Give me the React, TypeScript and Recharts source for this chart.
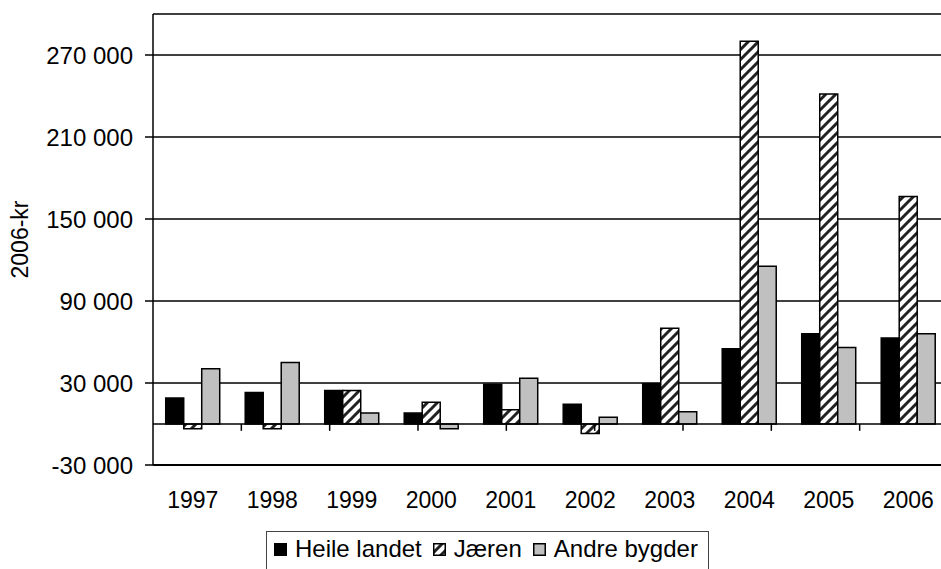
import { BarChart, Bar, XAxis, YAxis, CartesianGrid, ReferenceLine } from 'recharts';

const years = ['1997', '1998', '1999', '2000', '2001', '2002', '2003', '2004', '2005', '2006'];
const heileLandet = [19000, 23000, 24500, 8000, 29000, 14500, 29500, 55000, 66000, 63000];
const jaeren = [-3500, -3500, 24500, 16000, 10500, -7000, 70000, 280000, 241500, 166500];
const andreBygder = [40500, 45000, 8000, -3500, 33500, 5000, 9000, 115500, 56000, 66000];
const yTicks = [-30000, 30000, 90000, 150000, 210000, 270000];

const FONT = '"Liberation Sans", Arial, sans-serif';
const FS = 23;
const FS_Y = 24;
const FS_LEG = 24;

const data = years.map((year, i) => ({
  year,
  heile: heileLandet[i],
  jaeren: jaeren[i],
  andre: andreBygder[i],
}));

// category boundaries for the small ticks hanging off the zero line
const boundaries = years.slice(1).map((_, i) => i + 1);

function fmt(v: number): string {
  const s = Math.abs(v).toString().replace(/\B(?=(\d{3})+(?!\d))/g, ' ');
  return v < 0 ? '-' + s : s;
}

function YLabel(props: any) {
  const vb = props.viewBox || {};
  const cy = (vb.y ?? 0) + (vb.height ?? 0) / 2;
  return (
    <text
      x={20}
      y={cy}
      transform={`rotate(-90 20 ${cy})`}
      textAnchor="middle"
      dominantBaseline="central"
      fontFamily={FONT}
      fontSize={FS}
      fill="#000"
    >
      2006-kr
    </text>
  );
}

const legendItems = [
  { name: 'Heile landet', fill: '#000' },
  { name: 'Jæren', fill: 'url(#hatch)' },
  { name: 'Andre bygder', fill: '#c0c0c0' },
];

export default function App() {
  return (
    <div style={{ position: 'absolute', left: 0, top: 0, width: 941, height: 569, overflow: 'hidden', background: '#fff' }}>
      <BarChart
        width={948}
        height={569}
        data={data}
        margin={{ top: 14, right: 0, left: 0, bottom: 0 }}
        barCategoryGap="16%"
        barGap={0}
      >
        <defs>
          <pattern id="hatch" patternUnits="userSpaceOnUse" width={10} height={10}>
            <rect width={10} height={10} fill="#fff" />
            <path d="M-2,2 L2,-2 M0,10 L10,0 M8,12 L12,8" stroke="#222" strokeWidth={3} />
          </pattern>
        </defs>
        <CartesianGrid vertical={false} stroke="#000" strokeWidth={1.5} strokeDasharray="" />
        <XAxis
          dataKey="year"
          height={104}
          tickLine={false}
          tickSize={0}
          tickMargin={27}
          axisLine={{ stroke: '#000', strokeWidth: 2 }}
          tick={{ fill: '#000', fontSize: FS, fontFamily: FONT }}
          interval={0}
        />
        <XAxis xAxisId="b" type="number" domain={[0, 10]} hide />
        <YAxis
          width={153}
          domain={[-30000, 300000]}
          ticks={yTicks}
          interval={0}
          tickFormatter={fmt}
          tickSize={8}
          tickMargin={12}
          tickLine={{ stroke: '#000', strokeWidth: 1.5 }}
          axisLine={{ stroke: '#000', strokeWidth: 1.5 }}
          tick={{ fill: '#000', fontSize: FS_Y, fontFamily: FONT }}
          allowDataOverflow
          label={<YLabel />}
        />
        <ReferenceLine y={0} stroke="#000" strokeWidth={1.5} />
        {boundaries.map((b) => (
          <ReferenceLine
            key={b}
            xAxisId="b"
            segment={[{ x: b, y: 0 }, { x: b, y: -5000 }]}
            stroke="#000"
            strokeWidth={1.5}
          />
        ))}
        <Bar dataKey="heile" fill="#000" stroke="#000" strokeWidth={1.5} isAnimationActive={false} />
        <Bar dataKey="jaeren" fill="url(#hatch)" stroke="#000" strokeWidth={1.5} isAnimationActive={false} />
        <Bar dataKey="andre" fill="#c0c0c0" stroke="#000" strokeWidth={1.5} isAnimationActive={false} />
      </BarChart>
      <div
        style={{
          position: 'absolute',
          left: 266,
          top: 531,
          width: 443,
          height: 60,
          boxSizing: 'border-box',
          border: '1.5px solid #444',
          display: 'flex',
          alignItems: 'flex-start',
          paddingLeft: 7,
          paddingTop: 3,
          fontFamily: FONT,
          fontSize: FS_LEG,
          color: '#000',
          whiteSpace: 'nowrap',
        }}
      >
        {legendItems.map((it) => (
          <span key={it.name} style={{ display: 'inline-flex', alignItems: 'center', marginRight: 11 }}>
            <svg width={13} height={13} style={{ marginRight: 8 }}>
              <rect x={0.75} y={0.75} width={11.5} height={11.5} fill={it.fill} stroke="#000" strokeWidth={1.5} />
            </svg>
            {it.name}
          </span>
        ))}
      </div>
    </div>
  );
}
